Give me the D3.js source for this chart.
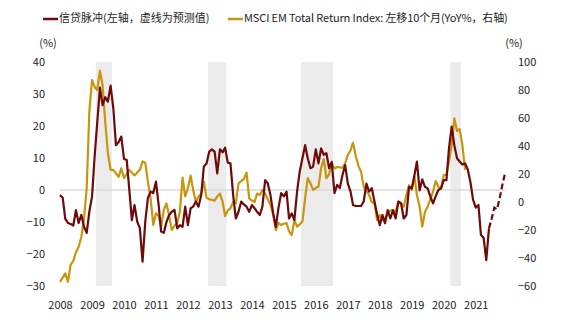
<!DOCTYPE html>
<html lang="zh">
<head>
<meta charset="UTF-8">
<title>信贷脉冲 vs MSCI EM</title>
<script src="https://d3js.org/d3.v7.min.js"></script>
<style>
  body { margin: 0; background: #fff; }
  svg text { font-family: "Noto Sans CJK SC", "Noto Sans", sans-serif; fill: #222; }
</style>
</head>
<body>
<div id="chart"></div>
<script>
// ---- data (monthly, first value = startMonth) ----
const startMonth = "2008-01";

// credit impulse, left axis (%)
const creditImpulse = [
  -1.6, -2.4, -9.0, -10.3, -10.6, -11.1, -6.3, -10.3, -7.8, -11.5, -13.4, -6.8,   // 2008
  -2.0, 11, 21, 32, 26.5, 29, 27.6, 32.6, 25.6, 14, 15, 16.7,                     // 2009
  9.7, 9.4, 0.6, -9.4, -4.7, -9.9, -11.9, -22.4, -9.9, -2.5, -0.5, -1,             // 2010
  2.6, -4.7, -13, -13.4, -10, -7.8, -6.8, -6.2, -12, -11, -11.5, -5.2,             // 2011
  -11, -5.7, -5.2, -3.6, -5.2, -1.6, 7.3, 8.3, 12, 12.7, 12, 5.2,                  // 2012
  12.7, 11.8, 13.2, 8.5, 8.3, -1.6, -8.9, -6.8, -3.6, -4.5, -5.2, -6.8,            // 2013
  -4.7, -5.7, -6.8, -7.8, -5.2, 3.1, 2.1, -1.6, -7.3, -11.5, -5.5, -1,             // 2014
  -2, -0.5, -8.9, -7.3, -9.4, -0.5, 5.7, 9.9, 14, 9.9, 6.8, 7.3,                   // 2015
  12.7, 8.3, 13, 11, 11.5, 6.8, 8.8, -1, 1.6, 0.6, 4.7, 7.8,                       // 2016
  2, -0.5, -4.7, -5, -5, -5, -3.6, 2, -0.5, 0.6, -3.6, -7.6,                       // 2017
  -11, -7.8, -10.4, -6.3, -8.9, -6.3, -8.9, -3.6, -4.2, -8.9, -7.8, 1,             // 2018
  0.5, 4.7, 8.9, -0.1, 3.3, 1, 0.5, -2, -4.2, -2, 0, 0.5,                          // 2019
  3.1, 3.1, 13, 19.8, 14, 9.9, 8.9, 8, 8.3, 6.5, 2.5, -3,                          // 2020
  -5.5, -4.7, -14, -15, -21.9, -12                                                 // 2021
];

// forecast part (dashed), starts at the last actual month
const forecastStart = "2021-06";
const creditForecast = [-12, -9, -5.5, -6, -2.6, 1.6, 5.2];

// MSCI EM total return YoY, shifted 10 months left, right axis (%)
const msciYoY = [
  -57, -54, -51, -57, -45, -42, -36, -32, -25, -12, 10, 64.5,                       // 2008
  87, 82, 80, 93.6, 83.6, 57, 35, 23, 23, 20.5, 18, 24,                            // 2009
  17, 20, 23, 21, 19, 21, 23, 29, 28, 14.5, 2.6, -16.4,                            // 2010
  -8, -10, -17.6, -5.7, -1, -10, -20, -17, -15, -7, 17.4, 4,                       // 2011
  10, 18.8, 8.6, 0.2, 4, 6, 14.5, 3, 2, 1.5, 1, 4,                                 // 2012
  6, 0, -10, -6, -4.5, 0, -1, 13.3, 15, 16.4, 21, 2.6,                             // 2013
  1, 0, 6, 5, 8.6, 6, 2, -2, -9.3, -20, -15, -16.4,                                // 2014
  -15.5, -15, -21, -23.6, -13, -17.6, -16, -14, 2.6, 17, 13.3, 8.6,                // 2015
  10, 11, 24, 30.7, 17, 19.8, 27.6, 24, 25, 24.7, 24.5, 27.6,                      // 2016
  33.6, 37, 42.4, 33, 26, 21.6, 11, 8, 5, 0, -1, -13,                              // 2017
  -9.3, -13, -12, -8, -6, -6, -7, 0.2, -1, -3.4, 5, 12,                            // 2018
  8.6, 18, 5, -3.4, -17.6, -7, -3.4, 2, 7.4, 15, 10.7, 9.5,                        // 2019
  19.3, 19.3, 28.8, 40.7, 59.8, 50.7, 52, 40.7, 22.9                               // 2020
];

// grey shaded periods (first month, last month)
const shadedPeriods = [
  ["2009-03", "2009-08"],
  ["2012-09", "2013-03"],
  ["2015-08", "2016-07"],
  ["2020-04", "2020-07"]
];

const leftTicks = [-30, -20, -10, 0, 10, 20, 30, 40];
const rightTicks = [-60, -40, -20, 0, 20, 40, 60, 80, 100];
const endMonth = "2021-12";

const legendItems = [
  { label: "信贷脉冲(左轴，虚线为预测值)", color: "#6e0a0a" },
  { label: "MSCI EM Total Return Index: 左移10个月(YoY%，右轴)", color: "#c8960c" }
];

// ---- layout ----
const W = 568, H = 327;
const margin = { top: 62, right: 63, bottom: 41, left: 60 };
const innerW = W - margin.left - margin.right;
const innerH = H - margin.top - margin.bottom;

const parseMonth = d3.timeParse("%Y-%m");
const monthSeries = (start, values) =>
  values.map((v, i) => ({ date: d3.timeMonth.offset(parseMonth(start), i), value: v }));

const svg = d3.select("#chart")
  .append("svg")
  .attr("width", W)
  .attr("height", H);

const g = svg.append("g")
  .attr("transform", `translate(${margin.left},${margin.top})`);

// scales
const x = d3.scaleTime()
  .domain([parseMonth(startMonth), parseMonth(endMonth)])
  .range([0, innerW]);

const yLeft = d3.scaleLinear().domain([-30, 40]).range([innerH, 0]);
const yRight = d3.scaleLinear().domain([-60, 100]).range([innerH, 0]);

// shaded bands (half a month padding either side)
g.append("g")
  .selectAll("rect")
  .data(shadedPeriods)
  .join("rect")
  .attr("x", d => x(d3.timeDay.offset(parseMonth(d[0]), -15)))
  .attr("width", d => x(d3.timeDay.offset(parseMonth(d[1]), 15)) - x(d3.timeDay.offset(parseMonth(d[0]), -15)))
  .attr("y", 0)
  .attr("height", innerH)
  .attr("fill", "#ebebeb");

// zero line
g.append("line")
  .attr("x1", 0)
  .attr("x2", innerW)
  .attr("y1", yLeft(0))
  .attr("y2", yLeft(0))
  .attr("stroke", "#dadada")
  .attr("stroke-width", 1.5);

// axes
const xAxis = g.append("g")
  .attr("transform", `translate(0,${innerH})`)
  .call(d3.axisBottom(x)
    .ticks(d3.timeYear.every(1))
    .tickFormat(d3.timeFormat("%Y"))
    .tickSize(0)
    .tickPadding(15));

const leftAxis = g.append("g")
  .call(d3.axisLeft(yLeft).tickValues(leftTicks).tickSize(0).tickPadding(15));

const rightAxis = g.append("g")
  .attr("transform", `translate(${innerW},0)`)
  .call(d3.axisRight(yRight).tickValues(rightTicks).tickSize(0).tickPadding(13));

[xAxis, leftAxis, rightAxis].forEach(a => {
  a.select(".domain").remove();
  a.selectAll("text")
    .attr("fill", "#222")
    .style("font-size", "11px")
    .style("font-family", "\"Noto Sans CJK SC\", \"Noto Sans\", sans-serif");
});

// lines
const lineLeft = d3.line().x(d => x(d.date)).y(d => yLeft(d.value));
const lineRight = d3.line().x(d => x(d.date)).y(d => yRight(d.value));

g.append("path")
  .datum(monthSeries(startMonth, msciYoY))
  .attr("fill", "none")
  .attr("stroke", legendItems[1].color)
  .attr("stroke-width", 2.2)
  .attr("stroke-linejoin", "round")
  .attr("d", lineRight);

g.append("path")
  .datum(monthSeries(startMonth, creditImpulse))
  .attr("fill", "none")
  .attr("stroke", legendItems[0].color)
  .attr("stroke-width", 2.2)
  .attr("stroke-linejoin", "round")
  .attr("d", lineLeft);

g.append("path")
  .datum(monthSeries(forecastStart, creditForecast))
  .attr("fill", "none")
  .attr("stroke", legendItems[0].color)
  .attr("stroke-width", 2.2)
  .attr("stroke-dasharray", "6,3")
  .attr("d", lineLeft);

// unit labels
svg.append("text")
  .attr("x", 48).attr("y", 44)
  .attr("text-anchor", "middle")
  .attr("dominant-baseline", "middle")
  .style("font-size", "11px")
  .text("(%)");

svg.append("text")
  .attr("x", 514).attr("y", 44)
  .attr("text-anchor", "middle")
  .attr("dominant-baseline", "middle")
  .style("font-size", "11px")
  .text("(%)");

// legend
const legendX = [43, 228];
const legend = svg.append("g")
  .selectAll("g")
  .data(legendItems)
  .join("g")
  .attr("transform", (d, i) => `translate(${legendX[i]},19)`);

legend.append("line")
  .attr("x1", 0).attr("x2", 15)
  .attr("stroke", d => d.color)
  .attr("stroke-width", 2.5);

legend.append("text")
  .attr("x", 16)
  .attr("dominant-baseline", "middle")
  .style("font-size", "11px")
  .style("letter-spacing", (d, i) => i === 1 ? "-0.12px" : null)
  .text(d => d.label);
</script>
</body>
</html>
